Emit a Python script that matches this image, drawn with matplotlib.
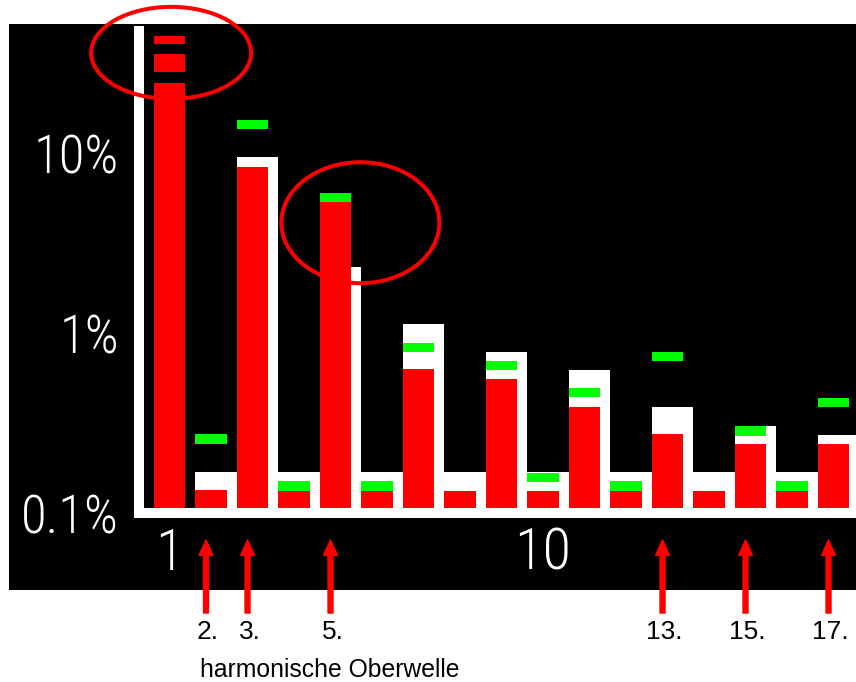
import numpy as np
import matplotlib
matplotlib.use("Agg")
import matplotlib.pyplot as plt
from matplotlib import font_manager as fm
from matplotlib.patches import Ellipse
from matplotlib.ticker import NullLocator
from matplotlib.transforms import IdentityTransform

# harmonic orders and levels in % of the fundamental
harmonics = np.arange(1, 18)
measured = np.array([24.5, 0.135, 8.34, 0.133, 5.31, 0.133, 0.627, 0.133, 0.556,
                     0.133, 0.389, 0.133, 0.273, 0.133, 0.242, 0.133, 0.242])
limit_white = np.array([np.nan, 0.168, 9.48, 0.168, 2.32, 0.168, 1.125, 0.168, 0.782,
                        0.168, 0.625, 0.168, 0.387, 0.168, 0.3035, 0.168, 0.2695])
limit_green = np.array([np.nan, 0.258, 14.4, 0.141, 5.64, 0.141, 0.834, np.nan, 0.662,
                        0.158, 0.467, 0.141, 0.738, np.nan, 0.286, 0.141, 0.411])
# pieces of the cut-off fundamental bar
first_breaks = [(28.2, 35.5), (40.3, 44.7)]
marked = [2, 3, 5, 13, 15, 17]
# (harmonic, level %, width in, height in)
highlights = [(1.04, 36.0, 1.60, 0.92), (5.6, 4.1, 1.58, 1.21)]
y_ticks = [0.1, 1, 10]
y_labels = ["0.1%", "1%", "10%"]
x_ticks = [1, 10]
x_labels = ["1", "10"]

W, H = 856, 682
sans = ["Liberation Sans", "DejaVu Sans"]

# pick a condensed face for the axis numbers if one is installed
installed = {f.name for f in fm.fontManager.ttflist}
narrow_name = next((n for n in ["Liberation Sans Narrow", "Roboto Condensed",
                                "Open Sans Condensed", "Noto Sans Condensed"]
                    if n in installed), None)
if narrow_name:
    tick_family = [narrow_name, "DejaVu Sans"]
    ysize, xsize = 38, 42
else:
    tick_family = ["Liberation Sans", "DejaVu Sans"]
    ysize, xsize = 31, 40

fig = plt.figure(figsize=(W / 100, H / 100), dpi=100)
fig.patch.set_facecolor("white")

bg = fig.add_axes([9 / W, 1 - 590 / H, (W - 9) / W, (590 - 24) / H])
bg.set_facecolor("black")
bg.set_xticks([])
bg.set_yticks([])
for s in bg.spines.values():
    s.set_visible(False)

ax = fig.add_axes([138.5 / W, 1 - 513 / H, (W - 138.5) / W, (513 - 31) / H])
ax.set_facecolor("none")
ax.set_yscale("log")
ax.set_ylim(0.1, 10 ** (-1 + (513 - 31) / 180))
ax.set_xlim(1 + (138.5 - 169.5) / 41.5, 1 + (W - 169.5) / 41.5)

bw = 0.747
ok = ~np.isnan(limit_white)
ax.bar(harmonics[ok] - bw / 2, limit_white[ok] - 0.1, width=1.0, bottom=0.1,
       align="edge", color="white", zorder=1)
ax.bar(harmonics, measured - 0.1, width=bw, bottom=0.1, color="#ff0000", zorder=2)
for lo, hi in first_breaks:
    ax.bar(1, hi - lo, width=bw, bottom=lo, color="#ff0000", zorder=2)
g = ~np.isnan(limit_green)
k = 10 ** 0.026
ax.bar(harmonics[g], limit_green[g] * (k - 1 / k), width=bw,
       bottom=limit_green[g] / k, color="#00ff00", zorder=3)

ax.set_yticks(y_ticks, y_labels)
ax.yaxis.set_minor_locator(NullLocator())
ax.set_xticks(x_ticks, x_labels)
ax.tick_params(length=0, colors="white")
ax.tick_params(axis="y", pad=14, labelsize=ysize)
ax.tick_params(axis="x", pad=10, labelsize=xsize)
for lab in ax.get_xticklabels() + ax.get_yticklabels():
    lab.set_family(tick_family)
    lab.set_fontweight("light")

for side in ["top", "right"]:
    ax.spines[side].set_visible(False)
for side in ["left", "bottom"]:
    ax.spines[side].set_color("white")
    ax.spines[side].set_linewidth(7.2)

# red highlight rings
for hx, hy, ew, eh in highlights:
    cx, cy = ax.transData.transform((hx, hy))
    ax.add_patch(Ellipse((cx, cy), ew * 100, eh * 100, transform=IdentityTransform(),
                         fill=False, edgecolor="red", lw=2.9, clip_on=False, zorder=5))

# arrows pointing at selected harmonics
xtr = ax.get_xaxis_transform()
for h in marked:
    xa = h - 0.12
    ax.annotate("", xy=(xa, -0.056), xytext=(xa, -0.2075),
                xycoords=xtr, textcoords=xtr, annotation_clip=False,
                arrowprops=dict(facecolor="red", edgecolor="red", width=3.6,
                                headwidth=10, headlength=11, shrink=0))
    ax.text(xa + 0.05, -0.247, f"{h}.", transform=xtr, ha="center", va="center",
            fontsize=19, family=sans, color="black")

fig.text(200 / W, 1 - 677 / H, "harmonische Oberwelle", fontsize=17.8,
         family=sans, va="baseline", ha="left")

fig.savefig("out.png", dpi=100, facecolor="white")
